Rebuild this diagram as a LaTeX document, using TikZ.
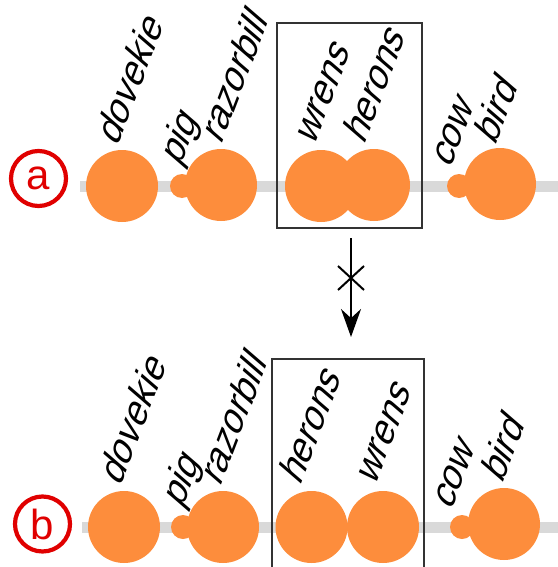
\documentclass[tikz,border=0pt]{standalone}
\usepackage{fontspec}
\setmainfont{Liberation Sans}
\usetikzlibrary{arrows.meta}
\definecolor{dotorange}{HTML}{FD8D3C}
\definecolor{trackgrey}{HTML}{D9D9D9}
\definecolor{labred}{HTML}{E00000}
\definecolor{boxgrey}{HTML}{333333}
\begin{document}
\begin{tikzpicture}[x=1pt,y=-1pt,
  track/.style={line width=11pt, draw=trackgrey},
  bigdot/.style={circle, fill=dotorange, minimum size=72pt, inner sep=0pt},
  smalldot/.style={circle, fill=dotorange, minimum size=24pt, inner sep=0pt},
  lab/.style={rotate=69, xslant=0.36, anchor=base west, inner sep=0pt, font=\fontsize{38}{38}\selectfont},
  rowlab/.style={circle, draw=labred, line width=4.2pt, minimum size=55pt, inner sep=0pt, text=labred, font=\fontsize{42}{42}\selectfont},
  groupbox/.style={draw=boxgrey, line width=1.5pt},
  crossline/.style={line width=2pt},
  flow/.style={line width=2pt, -{Stealth[length=28pt,width=20pt]}}
]
\useasboundingbox (0,0) rectangle (557,567);

% ---------- row a ----------
\coordinate (ta1) at (80,186);
\coordinate (ta2) at (560,186);
\draw[track] (ta1) -- (ta2);
\node[rowlab] (la) at (38.5,178.5) {a};
\node[bigdot] (a1) at (122,186) {};
\node[smalldot] (a2) at (182,186) {};
\node[bigdot] (a3) at (221,185) {};
\node[bigdot] (a4) at (321,186) {};
\node[bigdot] (a5) at (374,185) {};
\node[smalldot] (a6) at (459,186) {};
\node[bigdot] (a7) at (500,184) {};
\node[lab] (ta1l) at (117,148) {dovekie};
\node[lab] (ta2l) at (180,168) {pig};
\node[lab] (ta3l) at (221,146) {razorbill};
\node[lab] (ta4l) at (314,147) {wrens};
\node[lab] (ta5l) at (364,146) {herons};
\node[lab] (ta6l) at (450,170) {cow};
\node[lab] (ta7l) at (495,147) {bird};
\node[groupbox, minimum width=145pt, minimum height=205pt, inner sep=0pt] (boxa) at (349.5,125.5) {};

% ---------- arrow ----------
\coordinate (arS) at (351,238);
\coordinate (arE) at (351,337);
\draw[flow] (arS) -- (arE);
\coordinate (cx1) at (338,266);
\coordinate (cx2) at (364,290);
\coordinate (cx3) at (364,266);
\coordinate (cx4) at (338,290);
\draw[crossline] (cx1) -- (cx2);
\draw[crossline] (cx3) -- (cx4);

% ---------- row b ----------
\coordinate (tb1) at (82,527);
\coordinate (tb2) at (560,527);
\draw[track] (tb1) -- (tb2);
\node[rowlab] (lb) at (42.5,524) {b};
\node[bigdot] (b1) at (124,527) {};
\node[smalldot] (b2) at (183,527) {};
\node[bigdot] (b3) at (223,527) {};
\node[bigdot] (b4) at (311.5,527) {};
\node[bigdot] (b5) at (383,527) {};
\node[smalldot] (b6) at (462,527) {};
\node[bigdot] (b7) at (504,524) {};
\node[lab] (tb1l) at (120,488) {dovekie};
\node[lab] (tb2l) at (182,510) {pig};
\node[lab] (tb3l) at (220,488) {razorbill};
\node[lab] (tb4l) at (300,487) {herons};
\node[lab] (tb5l) at (375,487) {wrens};
\node[lab] (tb6l) at (451,512) {cow};
\node[lab] (tb7l) at (502,485) {bird};
\coordinate (bx1) at (272,570);
\coordinate (bx2) at (272,359);
\coordinate (bx3) at (424,359);
\coordinate (bx4) at (424,570);
\draw[groupbox] (bx1) -- (bx2) -- (bx3) -- (bx4);
\end{tikzpicture}
\end{document}
